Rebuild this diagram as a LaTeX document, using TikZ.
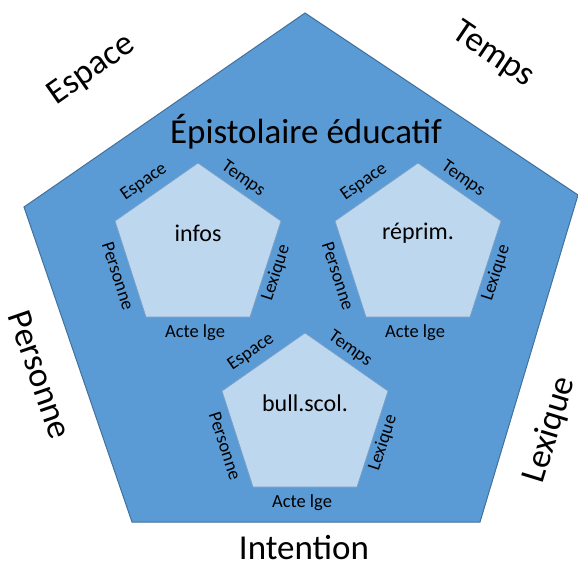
\documentclass[tikz,border=0pt]{standalone}
\usepackage{fontspec}
\setmainfont{Carlito}
\definecolor{outerfill}{HTML}{5B9BD5}
\definecolor{outerline}{HTML}{41719C}
\definecolor{innerfill}{HTML}{BDD7EE}
\definecolor{innerline}{HTML}{7A9FC8}
\begin{document}
\begin{tikzpicture}[x=1pt,y=1pt,
  biglabel/.style={font=\fontsize{35}{40}\selectfont, inner sep=0pt},
  smalllabel/.style={font=\fontsize{18.5}{20}\selectfont, inner sep=0pt},
  midlabel/.style={font=\fontsize{24}{28}\selectfont, inner sep=0pt},
  outerpenta/.style={fill=outerfill, draw=outerline, line width=1pt, line join=miter},
  innerpenta/.style={fill=innerfill, draw=innerline, line width=0.7pt, line join=miter}]
\useasboundingbox (0,0) rectangle (578,-565);
\coordinate (T) at (305,-13);
\coordinate (L) at (24,-207);
\coordinate (R) at (578,-195);
\coordinate (BR) at (480,-522);
\coordinate (BL) at (132,-522);
\draw[outerpenta] (T) -- (R) -- (BR) -- (BL) -- (L) -- cycle;

\node[biglabel, rotate=35] (espace) at (92,-70) {Espace};
\node[biglabel, rotate=-34] (temps) at (493,-55) {Temps};
\node[biglabel, rotate=-71] (personne) at (40,-375) {Personne};
\node[biglabel, rotate=73] (lexique) at (550,-430) {Lexique};
\node[biglabel] (intention) at (304,-548) {Intention};
\node[biglabel, anchor=base] (title) at (306,-143) {Épistolaire éducatif};

\foreach \nm/\tx/\ty/\lab in {a/198/163/infos, b/418/163/réprim., c/305/333/bull.scol.} {
  \begin{scope}[shift={(\tx,-\ty)}]
    \draw[innerpenta] (0,0) -- (83,-58) -- (52,-154) -- (-52,-154) -- (-83,-58) -- cycle;
    \node[smalllabel, rotate=35] (esp\nm) at (-54,-19) {Espace};
    \node[smalllabel, rotate=-35] (tmp\nm) at (45,-16) {Temps};
    \node[smalllabel, rotate=-72] (per\nm) at (-80,-113) {Personne};
    \node[smalllabel, rotate=72] (lex\nm) at (78,-110) {Lexique};
    \node[smalllabel] (act\nm) at (-3,-170) {Acte lge};
    \node[midlabel] (lab\nm) at (0,-70) {\lab};
  \end{scope}
}
\end{tikzpicture}
\end{document}
